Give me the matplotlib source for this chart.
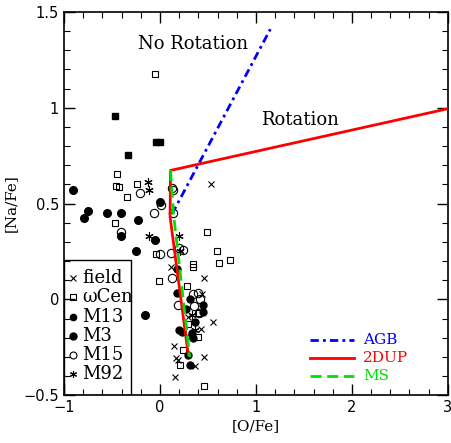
import matplotlib
matplotlib.use('Agg')
import matplotlib.pyplot as plt
from matplotlib.patches import Rectangle
from matplotlib.ticker import MultipleLocator

# 數據
field_x = [0.531, 0.11, 0.458, 0.44, 0.295, 0.549, 0.424, 0.146, 0.167, 0.19, 0.458, 0.365, 0.156, 0.3125]
field_y = [0.601, 0.171, 0.11, 0.03, -0.09, -0.12, -0.154, -0.245, -0.307, -0.316, -0.303, -0.35, -0.403, -0.194]

wcen_x = [-0.052, -0.45, -0.458, -0.43, -0.243, -0.34, -0.465, -0.04, 0.486, 0.59, 0.618, 0.725,
          -0.01, 0.34, 0.345, 0.278, 0.295, 0.40, 0.243, 0.212, 0.46, 0.41]
wcen_y = [1.174, 0.654, 0.593, 0.584, 0.601, 0.532, 0.401, 0.235, 0.351, 0.252, 0.189, 0.208,
          0.098, 0.171, 0.183, 0.07, -0.131, -0.194, -0.262, -0.342, -0.453, -0.07]
wcen_fill_x = [-0.466, -0.04, 0.0, -0.33]
wcen_fill_y = [0.956, 0.82, 0.82, 0.753]

m13_x = [0.18, 0.31, 0.27, 0.45, 0.445, 0.365, 0.2, 0.225, 0.33, 0.347, 0.295, 0.3125, 0.18]
m13_y = [0.032, 0.001, -0.051, -0.029, -0.064, -0.116, -0.159, -0.17, -0.177, -0.2, -0.293, -0.342, 0.16]

m3_x = [-0.903, -0.753, -0.795, -0.556, -0.403, -0.232, -0.403, -0.25, -0.052, -0.156, 0.005]
m3_y = [0.572, 0.462, 0.424, 0.452, 0.452, 0.413, 0.332, 0.252, 0.311, -0.081, 0.51]

m15_x = [-0.205, -0.059, -0.403, 0.139, 0.125, 0.139, 0.243, 0.2, 0.11, 0.0, 0.128, 0.19,
         0.34, 0.4, 0.417, 0.357, 0.41, 0.01]
m15_y = [0.553, 0.45, 0.354, 0.572, 0.582, 0.45, 0.258, 0.27, 0.24, 0.235, 0.11, -0.029,
         0.029, 0.032, 0.0, -0.034, -0.069, 0.49]

m92_x = [-0.12, -0.11, -0.11, 0.2, 0.21, 0.33, 0.36]
m92_y = [0.612, 0.572, 0.332, 0.333, 0.25, -0.08, -0.16]

# 模型線
agb_x = [0.125, 1.15]
agb_y = [0.445, 1.41]
dup_x = [3.0, 0.11, 0.105, 0.295]
dup_y = [0.995, 0.673, 0.43, -0.29]
ms_x = [0.11, 0.14, 0.31]
ms_y = [0.675, 0.45, -0.30]

agb_ls = (0, (3, 1.5, 1, 1.5))
ms_ls = (0, (4, 2))
green = '#00e000'

fig = plt.figure(figsize=(4.51, 4.43), dpi=100)
ax = fig.add_axes([0.142, 0.108, 0.851, 0.865])

ax.plot(agb_x, agb_y, color='blue', lw=2, ls=agb_ls, zorder=3)
ax.plot(dup_x, dup_y, color='red', lw=2, ls='-', zorder=4)
ax.plot(ms_x, ms_y, color=green, lw=2, ls=ms_ls, zorder=5)

ax.plot(field_x, field_y, 'x', color='black', ms=5, mew=0.8, zorder=2)
ax.plot(wcen_x, wcen_y, 's', mfc='none', mec='black', ms=5, mew=0.8, zorder=2)
ax.plot(wcen_fill_x, wcen_fill_y, 's', color='black', ms=4.5, zorder=2)
ax.plot(m13_x, m13_y, 'o', color='black', ms=5, zorder=2)
ax.plot(m3_x, m3_y, 'o', color='black', ms=5.5, zorder=2)
ax.plot(m15_x, m15_y, 'o', mfc='none', mec='black', ms=6, mew=0.8, zorder=2)
ax.plot(m92_x, m92_y, marker=(6, 2, 0), ls='none', color='black', ms=6, mew=0.8, zorder=2)

ax.set_xlim(-1, 3)
ax.set_ylim(-0.5, 1.5)
ax.xaxis.set_major_locator(MultipleLocator(1))
ax.xaxis.set_minor_locator(MultipleLocator(0.2))
ax.yaxis.set_major_locator(MultipleLocator(0.5))
ax.yaxis.set_minor_locator(MultipleLocator(0.1))
ax.tick_params(which='both', direction='in', top=True, right=True, labelsize=10.5)
ax.tick_params(which='major', length=8, width=1)
ax.tick_params(which='minor', length=4, width=0.8)
ax.set_xticklabels(['', '\u22121', '0', '1', '2', '3'])
ax.set_yticklabels(['', '\u22120.5', '0', '0.5', '1', '1.5'])
ax.set_xlabel('[O/Fe]', family='DejaVu Serif', fontsize=11, labelpad=3)
ax.set_ylabel('[Na/Fe]', family='DejaVu Serif', fontsize=11, labelpad=4)
for s in ax.spines.values():
    s.set_linewidth(1.2)

ax.text(0.34, 1.334, 'No Rotation', family='DejaVu Serif', fontsize=13, ha='center', va='center')
ax.text(1.46, 0.937, 'Rotation', family='DejaVu Serif', fontsize=13, ha='center', va='center')

# 左下角圖例
ax.add_patch(Rectangle((0, 0), 0.175, 0.3525, transform=ax.transAxes, fill=False,
                       edgecolor='black', lw=1, zorder=6))
names = ['field', '\u03c9Cen', 'M13', 'M3', 'M15', 'M92']
styles = [dict(marker='x', color='black', ms=4, mew=0.8),
          dict(marker='s', mfc='none', mec='black', ms=4, mew=0.8),
          dict(marker='o', color='black', ms=4.5),
          dict(marker='o', color='black', ms=5),
          dict(marker='o', mfc='none', mec='black', ms=5, mew=0.8),
          dict(marker=(6, 2, 0), color='black', ms=5, mew=0.8)]
for i in range(6):
    yy = 0.305 - 0.05 * i
    ax.plot([0.023], [yy], ls='none', transform=ax.transAxes, zorder=7, **styles[i])
    ax.text(0.048, yy, names[i], transform=ax.transAxes, family='DejaVu Serif',
            fontsize=13, va='center', ha='left', zorder=7)

# 右下角線條圖例
lines = [('AGB', 'blue', agb_ls), ('2DUP', 'red', '-'), ('MS', green, ms_ls)]
for i, (lab, c, ls) in enumerate(lines):
    yy = 0.145 - 0.047 * i
    ax.plot([0.64, 0.755], [yy, yy], color=c, ls=ls, lw=2, transform=ax.transAxes)
    ax.text(0.78, yy, lab, color=c, transform=ax.transAxes, family='DejaVu Serif',
            fontsize=11, va='center', ha='left')

fig.savefig('out.png', dpi=100)
